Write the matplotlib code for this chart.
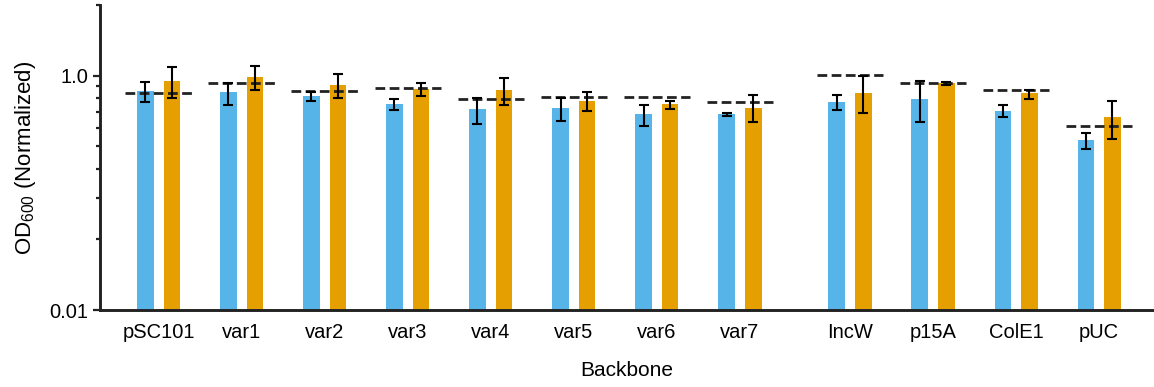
import numpy as np
import matplotlib
matplotlib.use("Agg")
import matplotlib.pyplot as plt
from matplotlib.ticker import FixedLocator, NullFormatter

plt.rcParams['font.family'] = ['Liberation Sans', 'DejaVu Sans']

categories = ["pSC101", "var1", "var2", "var3", "var4", "var5", "var6", "var7",
              "IncW", "p15A", "ColE1", "pUC"]

blue_vals = [0.856, 0.848, 0.815, 0.758, 0.717, 0.727, 0.685, 0.685, 0.774, 0.794, 0.708, 0.531]
blue_low = [0.768, 0.751, 0.776, 0.712, 0.623, 0.637, 0.612, 0.671, 0.712, 0.633, 0.663, 0.486]
blue_high = [0.940, 0.930, 0.851, 0.797, 0.805, 0.805, 0.748, 0.689, 0.826, 0.945, 0.746, 0.571]

orange_vals = [0.952, 0.983, 0.915, 0.877, 0.868, 0.781, 0.756, 0.729, 0.845, 0.927, 0.839, 0.663]
orange_low = [0.802, 0.865, 0.799, 0.815, 0.751, 0.703, 0.717, 0.635, 0.689, 0.915, 0.794, 0.538]
orange_high = [1.085, 1.096, 1.020, 0.927, 0.977, 0.848, 0.781, 0.823, 0.993, 0.936, 0.865, 0.776]

reference_vals = [0.845, 0.927, 0.862, 0.888, 0.797, 0.807, 0.807, 0.768, 1.003, 0.930, 0.871, 0.612]

ytick_vals = [0.1, 1.0]
ytick_labels = ["0.01", "1.0"]
yminor_vals = [0.2, 0.3, 0.4, 0.5, 0.6, 0.7, 0.8, 0.9, 2.0]

BLUE = "#56B4E9"
ORANGE = "#E69F00"
DARK = "#222222"

fig = plt.figure(figsize=(11.54, 3.87), dpi=100)
ax = fig.add_axes([100/1154, 1 - 310/387, 1 - 100/1154, (310 - 5)/387])

n = len(categories)
idx = np.arange(n)
x = idx + 0.325 * (idx >= 8)
w = 0.2
off = 0.16

bv = np.array(blue_vals); ov = np.array(orange_vals)
berr = [bv - np.array(blue_low), np.array(blue_high) - bv]
oerr = [ov - np.array(orange_low), np.array(orange_high) - ov]

ax.bar(x - off, bv, width=w, color=BLUE, zorder=2)
ax.bar(x + off, ov, width=w, color=ORANGE, zorder=2)

for xi, rv in zip(x, reference_vals):
    ax.plot([xi - 0.4, xi + 0.4], [rv, rv], color=DARK, lw=2.0,
            linestyle=(0, (3.5, 1.6)), zorder=3)

ax.errorbar(x - off, bv, yerr=berr, fmt="none", ecolor="black", elinewidth=1.5,
            capsize=3.8, capthick=1.5, zorder=4)
ax.errorbar(x + off, ov, yerr=oerr, fmt="none", ecolor="black", elinewidth=1.5,
            capsize=3.8, capthick=1.5, zorder=4)

ax.set_yscale("log")
ax.set_ylim(0.1, 2.0)
ax.set_xlim(-0.705, 11.985)

ax.yaxis.set_major_locator(FixedLocator(ytick_vals))
ax.set_yticklabels(ytick_labels)
ax.yaxis.set_minor_locator(FixedLocator(yminor_vals))
ax.yaxis.set_minor_formatter(NullFormatter())

ax.set_xticks(x)
ax.set_xticklabels(categories)

for s in ["top", "right"]:
    ax.spines[s].set_visible(False)
for s in ["left", "bottom"]:
    ax.spines[s].set_linewidth(2.1)
    ax.spines[s].set_color(DARK)

ax.tick_params(axis="y", which="major", length=5.4, width=1.6, color=DARK,
               labelsize=14.5, pad=3)
ax.tick_params(axis="y", which="minor", length=2.6, width=1.6, color=DARK)
ax.tick_params(axis="x", which="both", length=0, labelsize=14.5, pad=9)

ax.set_ylabel(r"OD$_{\mathregular{600}}$ (Normalized)", fontsize=16, labelpad=8)
ax.set_xlabel("Backbone", fontsize=15, labelpad=14)

fig.savefig("out.png", dpi=100)
